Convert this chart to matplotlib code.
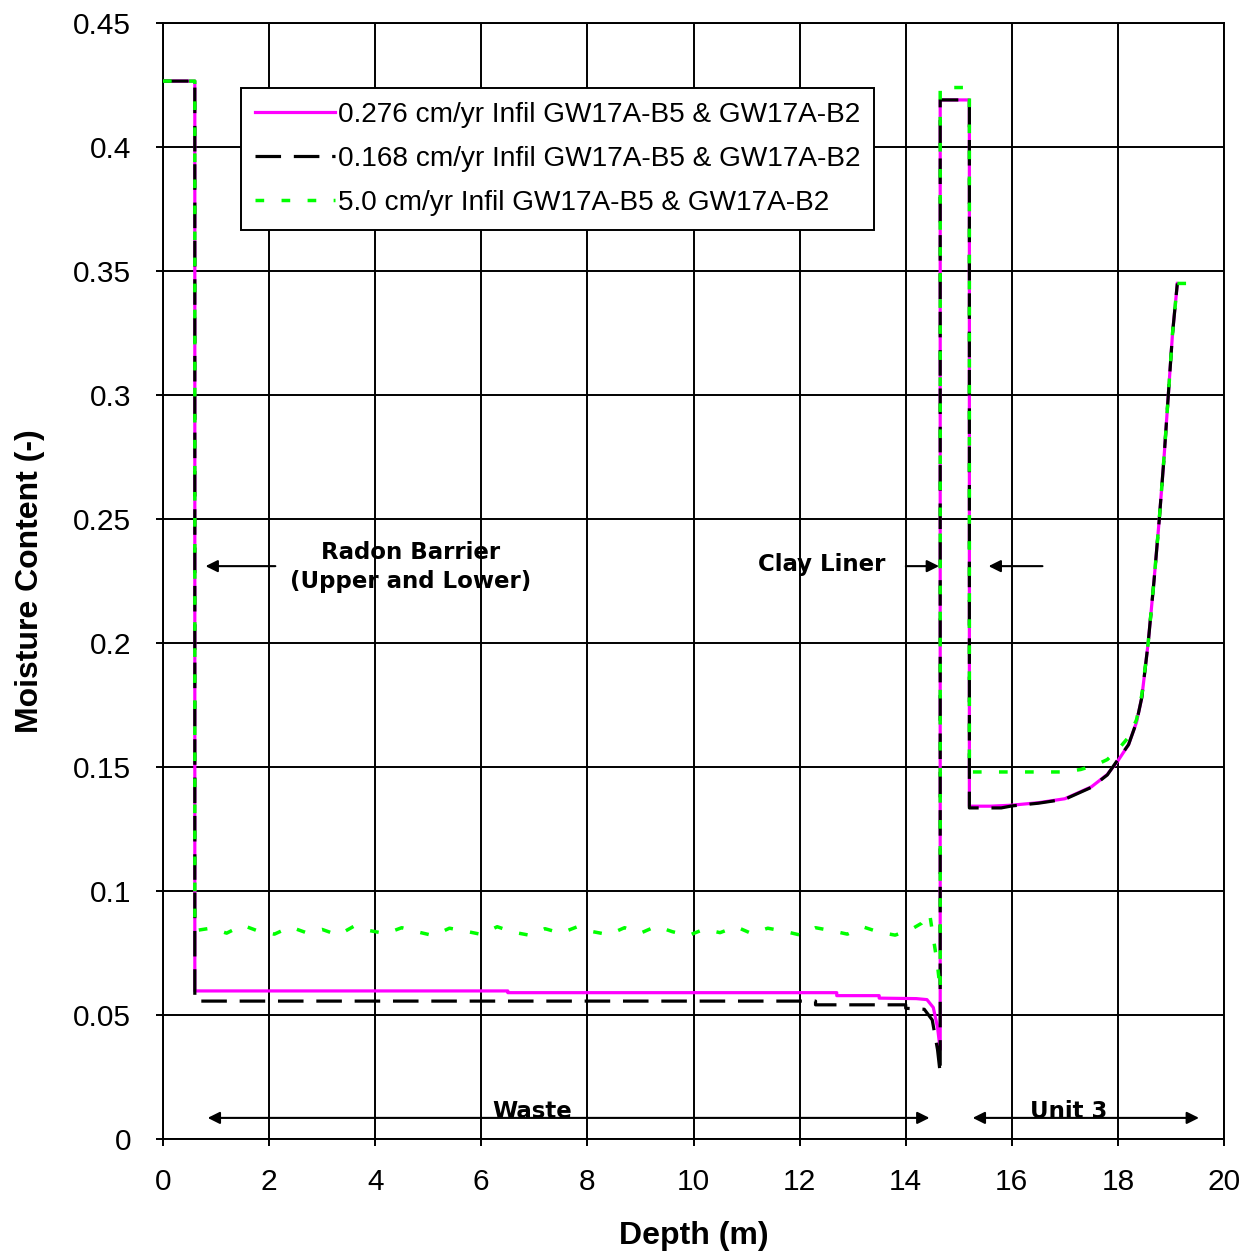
import matplotlib
matplotlib.use("Agg")
import matplotlib.pyplot as plt

# ---------------- data ----------------
labels = ["0.276 cm/yr Infil GW17A-B5 & GW17A-B2",
          "0.168 cm/yr Infil GW17A-B5 & GW17A-B2",
          "5.0 cm/yr Infil GW17A-B5 & GW17A-B2"]

depth_a = [0, 0.6, 0.6, 6.5, 6.5, 12.7, 12.7, 13.5, 13.5, 14.2, 14.4, 14.52, 14.6, 14.65,
           14.65, 15.2, 15.2, 15.6, 16.0, 16.5, 17.0, 17.5, 17.8, 18.0, 18.2, 18.35, 18.45,
           18.57, 18.68, 18.78, 18.87, 18.95, 19.03, 19.12]
moist_a = [0.4266, 0.4266, 0.0597, 0.0597, 0.0590, 0.0590, 0.0578, 0.0578, 0.0568, 0.0566,
           0.0562, 0.053, 0.045, 0.036,
           0.419, 0.419, 0.1342, 0.1342, 0.1346, 0.1356, 0.1372, 0.1420, 0.1470, 0.1525,
           0.1590, 0.1680, 0.1780, 0.2000, 0.2250, 0.2500, 0.2750, 0.3000, 0.3250, 0.3450]

depth_b = [0, 0.6, 0.6, 12.3, 12.3, 14.0, 14.0, 14.35, 14.5, 14.6, 14.65,
           14.65, 15.2, 15.2, 15.8, 16.0, 16.5, 17.0, 17.5, 17.8, 18.0, 18.2, 18.35, 18.45,
           18.57, 18.68, 18.78, 18.87, 18.95, 19.03, 19.12]
moist_b = [0.4266, 0.4266, 0.0556, 0.0556, 0.0541, 0.0541, 0.0527, 0.0523, 0.048, 0.036, 0.0265,
           0.419, 0.419, 0.1335, 0.1335, 0.1343, 0.1354, 0.1370, 0.1418, 0.1468, 0.1530,
           0.1590, 0.1680, 0.1780, 0.2000, 0.2250, 0.2500, 0.2750, 0.3000, 0.3250, 0.3450]

depth_c = [0, 0.6, 0.6, 0.9, 1.2, 1.5, 1.8, 2.1, 2.4, 2.7, 3.0, 3.3, 3.6, 3.9, 4.2, 4.5,
           4.8, 5.1, 5.4, 5.7, 6.0, 6.3, 6.6, 6.9, 7.2, 7.5, 7.8, 8.1, 8.4, 8.7, 9.0, 9.3,
           9.6, 9.9, 10.2, 10.5, 10.8, 11.1, 11.4, 11.7, 12.0, 12.3, 12.6, 12.9, 13.2, 13.5,
           13.8, 14.1, 14.3, 14.45, 14.6, 14.65,
           14.65, 15.2, 15.2, 16.0, 17.0, 17.3, 17.6, 17.8, 18.0, 18.2, 18.35, 18.45,
           18.57, 18.68, 18.78, 18.87, 18.95, 19.03, 19.12, 19.36]
moist_c = [0.4266, 0.4266, 0.0840, 0.0850, 0.0830, 0.0862, 0.0838, 0.0826, 0.0855, 0.0832,
           0.0845, 0.0822, 0.0858, 0.0840, 0.0828, 0.0852, 0.0835, 0.0820, 0.0850, 0.0838,
           0.0825, 0.0856, 0.0834, 0.0822, 0.0848, 0.0830, 0.0855, 0.0836, 0.0824, 0.0852,
           0.0830, 0.0858, 0.0836, 0.0820, 0.0846, 0.0832, 0.0856, 0.0828, 0.0850, 0.0838,
           0.0823, 0.0852, 0.0840, 0.0826, 0.0855, 0.0834, 0.0822, 0.0845, 0.0870, 0.0910,
           0.0700, 0.0600,
           0.4240, 0.4240, 0.1480, 0.1480, 0.1480, 0.1490, 0.1510, 0.1530, 0.1570, 0.1620,
           0.1690, 0.1790, 0.2000, 0.2250, 0.2500, 0.2750, 0.3000, 0.3250, 0.3450, 0.3450]

xticks = [0, 2, 4, 6, 8, 10, 12, 14, 16, 18, 20]
yticks = [0, 0.05, 0.1, 0.15, 0.2, 0.25, 0.3, 0.35, 0.4, 0.45]
ytick_labels = ["0", "0.05", "0.1", "0.15", "0.2", "0.25", "0.3", "0.35", "0.4", "0.45"]

# ---------------- figure ----------------
plt.rcParams['font.family'] = ['Liberation Sans', 'DejaVu Sans']
fig = plt.figure(figsize=(12.49, 12.53), dpi=100)
ax = fig.add_axes([0.1305, 0.091, 0.8495, 0.8906])

ax.plot(depth_a, moist_a, color='#FF00FF', lw=2.3, label=labels[0], zorder=3)
ax.plot(depth_b, moist_b, color='black', lw=2.3, dashes=(8, 4), label=labels[1], zorder=4)
ax.plot(depth_c, moist_c, color='#00FF00', lw=2.5, dashes=(2.5, 5), label=labels[2], zorder=5)

ax.set_xlim(0, 20)
ax.set_ylim(0, 0.45)
ax.set_xticks(xticks)
ax.set_xticklabels([str(t) for t in xticks])
ax.set_yticks(yticks)
ax.set_yticklabels(ytick_labels)
ax.grid(True, color='black', lw=1.4)
ax.set_axisbelow(True)
for s in ax.spines.values():
    s.set_linewidth(1.4)
ax.tick_params(axis='both', direction='out', length=5, width=1.4, labelsize=21.5)
ax.tick_params(axis='x', pad=16)
ax.tick_params(axis='y', pad=18)

ax.set_xlabel("Depth (m)", fontsize=23, fontweight='bold', labelpad=18)
ax.set_ylabel("Moisture Content (-)", fontsize=23, fontweight='bold', labelpad=20)

leg = ax.legend(loc='upper left', bbox_to_anchor=(0.0735, 0.942), borderaxespad=0,
                fontsize=20.2, handlelength=2.85, handletextpad=0.1, labelspacing=0.64,
                fancybox=False, framealpha=1, edgecolor='black', borderpad=0.5)
leg.get_frame().set_linewidth(1.4)

# ---------------- annotations ----------------
ann_font = dict(family='DejaVu Sans', fontweight='bold', fontsize=16.5)
arrow = dict(arrowstyle='-|>', color='black', lw=1.5, mutation_scale=18)
darrow = dict(arrowstyle='<|-|>', color='black', lw=1.5, mutation_scale=18)

ax.text(4.67, 0.2306, "Radon Barrier\n(Upper and Lower)", ha='center', va='center',
        linespacing=1.35, **ann_font)
ax.annotate("", xy=(0.75, 0.231), xytext=(2.17, 0.231), arrowprops=arrow)

ax.text(12.42, 0.2315, "Clay Liner", ha='center', va='center', **ann_font)
ax.annotate("", xy=(14.68, 0.231), xytext=(13.95, 0.231), arrowprops=arrow)
ax.annotate("", xy=(15.51, 0.231), xytext=(16.63, 0.231), arrowprops=arrow)

ax.annotate("", xy=(0.79, 0.0085), xytext=(14.5, 0.0085), arrowprops=darrow)
ax.annotate("", xy=(15.21, 0.0085), xytext=(19.58, 0.0085), arrowprops=darrow)
ax.text(6.96, 0.0085, "Waste", ha='center', va='baseline', **ann_font)
ax.text(17.08, 0.0085, "Unit 3", ha='center', va='baseline', **ann_font)

fig.savefig("out.png", dpi=100)
